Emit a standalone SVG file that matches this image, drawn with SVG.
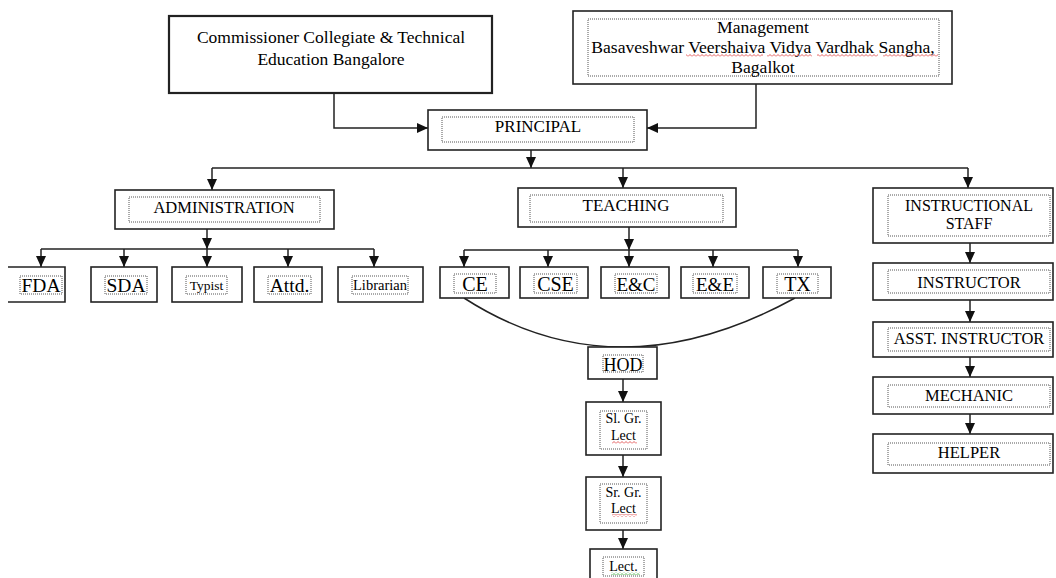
<svg xmlns="http://www.w3.org/2000/svg" width="1056" height="578" viewBox="0 0 1056 578">
<style>
.box{fill:#fff;stroke:#222;stroke-width:1.6}
.in{fill:none;stroke:#555;stroke-width:1;stroke-dasharray:1 1}
.t{font-family:"Liberation Serif","Times New Roman",serif;fill:#000;text-anchor:middle}
.c{fill:none;stroke:#222;stroke-width:1.5}
.sq{fill:url(#wavy)}
.sqg{fill:url(#wavyg)}
</style>
<defs>
<marker id="ah" markerUnits="userSpaceOnUse" markerWidth="11" markerHeight="10" refX="11" refY="5" orient="auto">
<path d="M0,0 L11,5 L0,10 z" fill="#111"/>
</marker>
<pattern id="wavy" patternUnits="userSpaceOnUse" width="4" height="3">
<path d="M0,2.5 L2,0.5 L4,2.5" fill="none" stroke="#d33" stroke-width="0.8"/>
</pattern>
<pattern id="wavyg" patternUnits="userSpaceOnUse" width="4" height="3">
<path d="M0,2.5 L2,0.5 L4,2.5" fill="none" stroke="#3a3" stroke-width="0.8"/>
</pattern>
</defs>
<rect width="1056" height="578" fill="#fff"/>

<g id="connectors">
<path class="c" d="M334,93 V128 H428" marker-end="url(#ah)"/>
<path class="c" d="M756,84 V128 H647" marker-end="url(#ah)"/>
<path class="c" d="M531,150 V168" marker-end="url(#ah)"/>
<path class="c" d="M212,168 H968"/>
<path class="c" d="M212,168 V190" marker-end="url(#ah)"/>
<path class="c" d="M623,168 V188" marker-end="url(#ah)"/>
<path class="c" d="M968,168 V188" marker-end="url(#ah)"/>
<path class="c" d="M207,229 V249" marker-end="url(#ah)"/>
<path class="c" d="M41,249 H374"/>
<path class="c" d="M41,249 V267" marker-end="url(#ah)"/>
<path class="c" d="M124,249 V267" marker-end="url(#ah)"/>
<path class="c" d="M207,249 V267" marker-end="url(#ah)"/>
<path class="c" d="M288,249 V267" marker-end="url(#ah)"/>
<path class="c" d="M374,249 V267" marker-end="url(#ah)"/>
<path class="c" d="M629,227 V250" marker-end="url(#ah)"/>
<path class="c" d="M464,250 H798"/>
<path class="c" d="M464,250 V267" marker-end="url(#ah)"/>
<path class="c" d="M548,250 V267" marker-end="url(#ah)"/>
<path class="c" d="M629,250 V267" marker-end="url(#ah)"/>
<path class="c" d="M713,250 V267" marker-end="url(#ah)"/>
<path class="c" d="M798,250 V267" marker-end="url(#ah)"/>
<path class="c" d="M464,298 Q616,396 795,298"/>
<path class="c" d="M623,379 V402" marker-end="url(#ah)"/>
<path class="c" d="M623,455 V477" marker-end="url(#ah)"/>
<path class="c" d="M623,530 V549" marker-end="url(#ah)"/>
<path class="c" d="M970,243 V263" marker-end="url(#ah)"/>
<path class="c" d="M970,300 V322" marker-end="url(#ah)"/>
<path class="c" d="M970,357 V377" marker-end="url(#ah)"/>
<path class="c" d="M970,414 V434" marker-end="url(#ah)"/>
</g>

<g id="commissioner">
<rect class="box" x="169" y="16" width="323" height="77" style="stroke-width:2.2"/>
<text class="t" x="331" y="43" font-size="17.5">Commissioner Collegiate &amp; Technical</text>
<text class="t" x="331" y="65" font-size="17.5">Education Bangalore</text>
</g>

<g id="management">
<rect class="box" x="573" y="11" width="379" height="73"/>
<rect class="in" x="588" y="19" width="351" height="57"/>
<text class="t" x="763" y="33" font-size="17.6">Management</text>
<text class="t" x="763" y="53" font-size="17.6">Basaveshwar Veershaiva Vidya Vardhak Sangha,</text>
<text class="t" x="763" y="73" font-size="17.6">Bagalkot</text>
<rect class="sq" x="686" y="54" width="77" height="3"/>
<rect class="sq" x="767" y="54" width="45" height="3"/>
<rect class="sq" x="817" y="54" width="61" height="3"/>
<rect class="sq" x="883" y="54" width="55" height="3"/>
</g>

<g id="principal">
<rect class="box" x="428" y="110" width="219" height="40"/>
<rect class="in" x="442" y="117" width="192" height="25"/>
<text class="t" x="538" y="132" font-size="17">PRINCIPAL</text>
</g>

<g id="administration">
<rect class="box" x="115" y="190" width="219" height="39"/>
<rect class="in" x="129" y="197" width="191" height="25"/>
<text class="t" x="224" y="212.5" font-size="16.5">ADMINISTRATION</text>
</g>

<g id="teaching">
<rect class="box" x="518" y="188" width="218" height="39"/>
<rect class="in" x="530" y="195" width="193" height="27"/>
<text class="t" x="626" y="210.5" font-size="17">TEACHING</text>
</g>

<g id="instructional-staff">
<rect class="box" x="873" y="188" width="180" height="55"/>
<rect class="in" x="888" y="195" width="162" height="41"/>
<text class="t" x="969" y="210.5" font-size="16">INSTRUCTIONAL</text>
<text class="t" x="969" y="228.5" font-size="16">STAFF</text>
</g>

<g id="fda">
<path class="box" d="M8,267 H65 V302 H8"/>
<rect class="in" x="20" y="276" width="42" height="18"/>
<text class="t" x="41" y="292" font-size="19.5">FDA</text>
</g>
<g id="sda">
<rect class="box" x="91" y="267" width="66" height="35"/>
<rect class="in" x="105" y="276" width="42" height="18"/>
<text class="t" x="126" y="292" font-size="19.5">SDA</text>
</g>
<g id="typist">
<rect class="box" x="172" y="267" width="70" height="35"/>
<rect class="in" x="186" y="276" width="41" height="18"/>
<text class="t" x="206.5" y="289.5" font-size="13.5">Typist</text>
</g>
<g id="attd">
<rect class="box" x="254" y="267" width="68" height="35"/>
<rect class="in" x="268" y="276" width="43" height="18"/>
<text class="t" x="289.5" y="292" font-size="19.5">Attd.</text>
</g>
<g id="librarian">
<rect class="box" x="338" y="267" width="85" height="35"/>
<rect class="in" x="352" y="276" width="56" height="18"/>
<text class="t" x="380" y="289.5" font-size="14.5">Librarian</text>
</g>

<g id="ce">
<rect class="box" x="440" y="267" width="69" height="31"/>
<rect class="in" x="454" y="274" width="42" height="19"/>
<text class="t" x="475" y="290.5" font-size="20">CE</text>
</g>
<g id="cse">
<rect class="box" x="520" y="267" width="68" height="31"/>
<rect class="in" x="534" y="274" width="43" height="19"/>
<text class="t" x="555.5" y="290.5" font-size="20">CSE</text>
</g>
<g id="ec">
<rect class="box" x="601" y="267" width="68" height="31"/>
<rect class="in" x="615" y="274" width="42" height="19"/>
<text class="t" x="636" y="290.5" font-size="19">E&amp;C</text>
</g>
<g id="ee">
<rect class="box" x="681" y="267" width="68" height="31"/>
<rect class="in" x="693" y="274" width="44" height="19"/>
<text class="t" x="715" y="290.5" font-size="19">E&amp;E</text>
</g>
<g id="tx">
<rect class="box" x="763" y="267" width="68" height="31"/>
<rect class="in" x="777" y="274" width="41" height="19"/>
<text class="t" x="797.5" y="290.5" font-size="20">TX</text>
</g>

<g id="hod">
<rect class="box" x="588" y="347" width="69" height="32"/>
<rect class="in" x="603" y="355" width="40" height="17"/>
<text class="t" x="623" y="371" font-size="18">HOD</text>
</g>
<g id="sl-gr-lect">
<rect class="box" x="586" y="402" width="75" height="53"/>
<rect class="in" x="600" y="411" width="47" height="38"/>
<text class="t" x="623.5" y="423" font-size="14">Sl. Gr.</text>
<text class="t" x="623.5" y="440" font-size="14">Lect</text>
<rect class="sq" x="612" y="441" width="25" height="3"/>
</g>
<g id="sr-gr-lect">
<rect class="box" x="586" y="477" width="75" height="53"/>
<rect class="in" x="600" y="484" width="47" height="39"/>
<text class="t" x="623.5" y="497" font-size="14">Sr. Gr.</text>
<text class="t" x="623.5" y="513" font-size="14">Lect</text>
<rect class="sq" x="612" y="514" width="25" height="3"/>
</g>
<g id="lect">
<rect class="box" x="590" y="549" width="67" height="40"/>
<rect class="in" x="603" y="557" width="41" height="19"/>
<text class="t" x="623.5" y="571" font-size="14">Lect.</text>
<rect class="sqg" x="611" y="572" width="29" height="3"/>
</g>

<g id="instructor">
<rect class="box" x="873" y="263" width="180" height="37"/>
<rect class="in" x="888" y="270" width="162" height="23"/>
<text class="t" x="969" y="287.5" font-size="16.5">INSTRUCTOR</text>
</g>
<g id="asst-instructor">
<rect class="box" x="873" y="322" width="180" height="35"/>
<rect class="in" x="888" y="328" width="162" height="23"/>
<text class="t" x="969" y="344" font-size="16.5">ASST. INSTRUCTOR</text>
</g>
<g id="mechanic">
<rect class="box" x="873" y="377" width="180" height="37"/>
<rect class="in" x="888" y="385" width="162" height="22"/>
<text class="t" x="969" y="401" font-size="16.5">MECHANIC</text>
</g>
<g id="helper">
<rect class="box" x="873" y="434" width="180" height="39"/>
<rect class="in" x="888" y="443" width="162" height="22"/>
<text class="t" x="969" y="458" font-size="16.5">HELPER</text>
</g>
</svg>
